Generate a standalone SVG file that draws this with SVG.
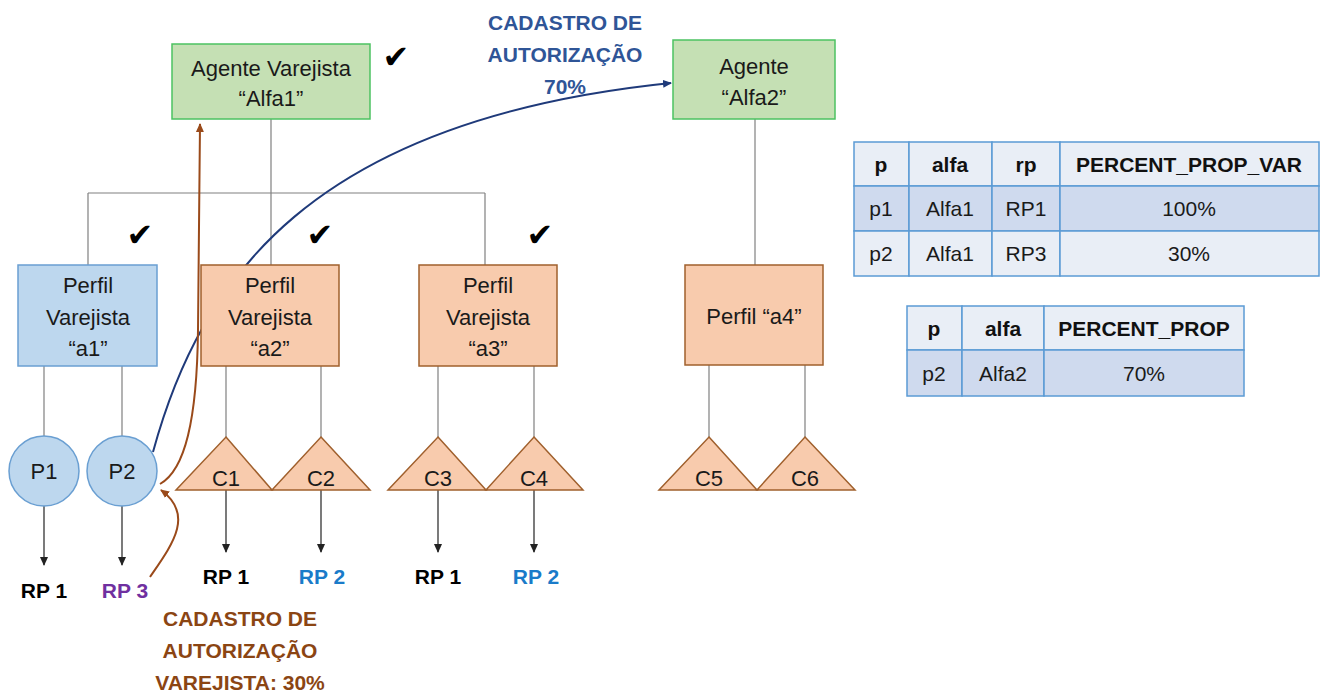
<svg xmlns="http://www.w3.org/2000/svg" width="1327" height="693" viewBox="0 0 1327 693">
<defs>
<style>
.t{font-family:"Liberation Sans",Arial,sans-serif;font-size:22px;fill:#1a1a1a;text-anchor:middle}
.tb{font-family:"Liberation Sans",Arial,sans-serif;font-size:21px;fill:#111;text-anchor:middle;font-weight:bold}
.td2{font-family:"Liberation Sans",Arial,sans-serif;font-size:21px;fill:#1a1a1a;text-anchor:middle}
.lbl{font-family:"Liberation Sans",Arial,sans-serif;font-size:21px;font-weight:bold;text-anchor:middle}
.ln{stroke:#808080;stroke-width:1.2;fill:none}
.arr{stroke:#222;stroke-width:1.2;fill:none;marker-end:url(#ak)}
.green{fill:#C5E0B4;stroke:#4CC262;stroke-width:1.5}
.blue{fill:#BDD7EE;stroke:#6A9FD2;stroke-width:1.5}
.org{fill:#F8CBAD;stroke:#A0602D;stroke-width:1.5}
.chk{font-family:"DejaVu Sans",sans-serif;font-size:32px;fill:#000;text-anchor:middle}
.th{fill:#E9EEF6;stroke:#5B9BD5;stroke-width:1.5}
.td{fill:#CFDAEE;stroke:#5B9BD5;stroke-width:1.5}
</style>
<marker id="ak" markerWidth="10" markerHeight="10" refX="8" refY="5" orient="auto" markerUnits="userSpaceOnUse"><path d="M0,1 L9,5 L0,9 Z" fill="#222"/></marker>
<marker id="ab" markerWidth="10" markerHeight="10" refX="8" refY="5" orient="auto" markerUnits="userSpaceOnUse"><path d="M0,1 L9,5 L0,9 Z" fill="#1F3A7A"/></marker>
<marker id="ao" markerWidth="10" markerHeight="10" refX="8" refY="5" orient="auto" markerUnits="userSpaceOnUse"><path d="M0,1 L9,5 L0,9 Z" fill="#9A4A1A"/></marker>
</defs>
<rect width="1327" height="693" fill="#fff"/>

<g id="connectors">
<path class="ln" d="M271,119 V193 M88,193 H485 M88,193 V265 M271,193 V265 M485,193 V265"/>
<path class="ln" d="M755,119 V265"/>
<path class="ln" d="M44,366 V437 M122,366 V437"/>
<path class="ln" d="M226,366 V437 M321,366 V437 M438,366 V437 M534,366 V437 M709,365 V437 M805,365 V437"/>
<path class="arr" d="M44,505 V565"/>
<path class="arr" d="M122,505 V565"/>
<path class="arr" d="M226,490 V552"/>
<path class="arr" d="M321,490 V552"/>
<path class="arr" d="M438,490 V552"/>
<path class="arr" d="M534,490 V552"/>
<path d="M153,452 C200,280 310,120 671,83" stroke="#1F3A7A" stroke-width="2" fill="none" marker-end="url(#ab)"/>
<path d="M160,484 C185,470 197,420 198,330 L200,124" stroke="#9A4A1A" stroke-width="2" fill="none" marker-end="url(#ao)"/>
<path d="M150,577 C172,545 195,515 161,490" stroke="#9A4A1A" stroke-width="2" fill="none" marker-end="url(#ao)"/>
</g>

<g id="alfa1">
<rect class="green" x="172" y="44" width="198" height="75"/>
<text class="t" x="271" y="76">Agente Varejista</text>
<text class="t" x="271" y="106">“Alfa1”</text>
</g>
<g id="alfa2">
<rect class="green" x="673" y="40" width="162" height="79"/>
<text class="t" x="754" y="74">Agente</text>
<text class="t" x="754" y="105">“Alfa2”</text>
</g>

<g id="a1">
<rect class="blue" x="18" y="265" width="139" height="101"/>
<text class="t" x="88" y="293">Perfil</text>
<text class="t" x="88" y="325">Varejista</text>
<text class="t" x="88" y="356">“a1”</text>
</g>
<g id="a2">
<rect class="org" x="201" y="265" width="138" height="101"/>
<text class="t" x="270" y="293">Perfil</text>
<text class="t" x="270" y="325">Varejista</text>
<text class="t" x="270" y="356">“a2”</text>
</g>
<g id="a3">
<rect class="org" x="419" y="265" width="138" height="101"/>
<text class="t" x="488" y="293">Perfil</text>
<text class="t" x="488" y="325">Varejista</text>
<text class="t" x="488" y="356">“a3”</text>
</g>
<g id="a4">
<rect class="org" x="685" y="265" width="138" height="100"/>
<text class="t" x="754" y="324">Perfil “a4”</text>
</g>

<g id="p1">
<circle class="blue" cx="44" cy="471" r="35"/>
<text class="t" x="44" y="479">P1</text>
</g>
<g id="p2">
<circle class="blue" cx="122" cy="471" r="35"/>
<text class="t" x="122" y="479">P2</text>
</g>

<g id="c1"><path class="org" d="M226,437 L272,490 L176,490 Z"/><text class="t" x="226" y="486">C1</text></g>
<g id="c2"><path class="org" d="M321,437 L370,490 L272,490 Z"/><text class="t" x="321" y="486">C2</text></g>
<g id="c3"><path class="org" d="M438,437 L486,490 L388,490 Z"/><text class="t" x="438" y="486">C3</text></g>
<g id="c4"><path class="org" d="M534,437 L583,490 L486,490 Z"/><text class="t" x="534" y="486">C4</text></g>
<g id="c5"><path class="org" d="M709,437 L757,490 L659,490 Z"/><text class="t" x="709" y="486">C5</text></g>
<g id="c6"><path class="org" d="M805,437 L855,490 L757,490 Z"/><text class="t" x="805" y="486">C6</text></g>

<g id="labels">
<text class="lbl" x="44" y="598" fill="#000">RP 1</text>
<text class="lbl" x="125" y="598" fill="#7030A0">RP 3</text>
<text class="lbl" x="226" y="584" fill="#000">RP 1</text>
<text class="lbl" x="322" y="584" fill="#1A7BC9">RP 2</text>
<text class="lbl" x="438" y="584" fill="#000">RP 1</text>
<text class="lbl" x="536" y="584" fill="#1A7BC9">RP 2</text>
<text class="lbl" x="240" y="626" fill="#8B4513">CADASTRO DE</text>
<text class="lbl" x="240" y="658" fill="#8B4513">AUTORIZAÇÃO</text>
<text class="lbl" x="240" y="690" fill="#8B4513">VAREJISTA: 30%</text>
<text class="lbl" x="565" y="30" fill="#2F5597">CADASTRO DE</text>
<text class="lbl" x="565" y="62" fill="#2F5597">AUTORIZAÇÃO</text>
<text class="lbl" x="565" y="94" fill="#2F5597">70%</text>
</g>

<g id="checks">
<text class="chk" x="396" y="68">✔</text>
<text class="chk" x="140" y="246">✔</text>
<text class="chk" x="320" y="246">✔</text>
<text class="chk" x="540" y="246">✔</text>
</g>

<g id="table1">
<rect class="th" x="854" y="142" width="55" height="44"/>
<rect class="th" x="909" y="142" width="83" height="44"/>
<rect class="th" x="992" y="142" width="68" height="44"/>
<rect class="th" x="1060" y="142" width="259" height="44"/>
<rect class="td" x="854" y="186" width="55" height="45"/>
<rect class="td" x="909" y="186" width="83" height="45"/>
<rect class="td" x="992" y="186" width="68" height="45"/>
<rect class="td" x="1060" y="186" width="259" height="45"/>
<rect class="th" x="854" y="231" width="55" height="45"/>
<rect class="th" x="909" y="231" width="83" height="45"/>
<rect class="th" x="992" y="231" width="68" height="45"/>
<rect class="th" x="1060" y="231" width="259" height="45"/>
<text class="tb" x="881" y="172">p</text>
<text class="tb" x="950" y="172">alfa</text>
<text class="tb" x="1026" y="172">rp</text>
<text class="tb" x="1189" y="172">PERCENT_PROP_VAR</text>
<text class="td2" x="881" y="216">p1</text>
<text class="td2" x="950" y="216">Alfa1</text>
<text class="td2" x="1026" y="216">RP1</text>
<text class="td2" x="1189" y="216">100%</text>
<text class="td2" x="881" y="261">p2</text>
<text class="td2" x="950" y="261">Alfa1</text>
<text class="td2" x="1026" y="261">RP3</text>
<text class="td2" x="1189" y="261">30%</text>
</g>

<g id="table2">
<rect class="th" x="907" y="306" width="55" height="44"/>
<rect class="th" x="962" y="306" width="82" height="44"/>
<rect class="th" x="1044" y="306" width="200" height="44"/>
<rect class="td" x="907" y="350" width="55" height="46"/>
<rect class="td" x="962" y="350" width="82" height="46"/>
<rect class="td" x="1044" y="350" width="200" height="46"/>
<text class="tb" x="934" y="336">p</text>
<text class="tb" x="1003" y="336">alfa</text>
<text class="tb" x="1144" y="336">PERCENT_PROP</text>
<text class="td2" x="934" y="381">p2</text>
<text class="td2" x="1003" y="381">Alfa2</text>
<text class="td2" x="1144" y="381">70%</text>
</g>
</svg>
